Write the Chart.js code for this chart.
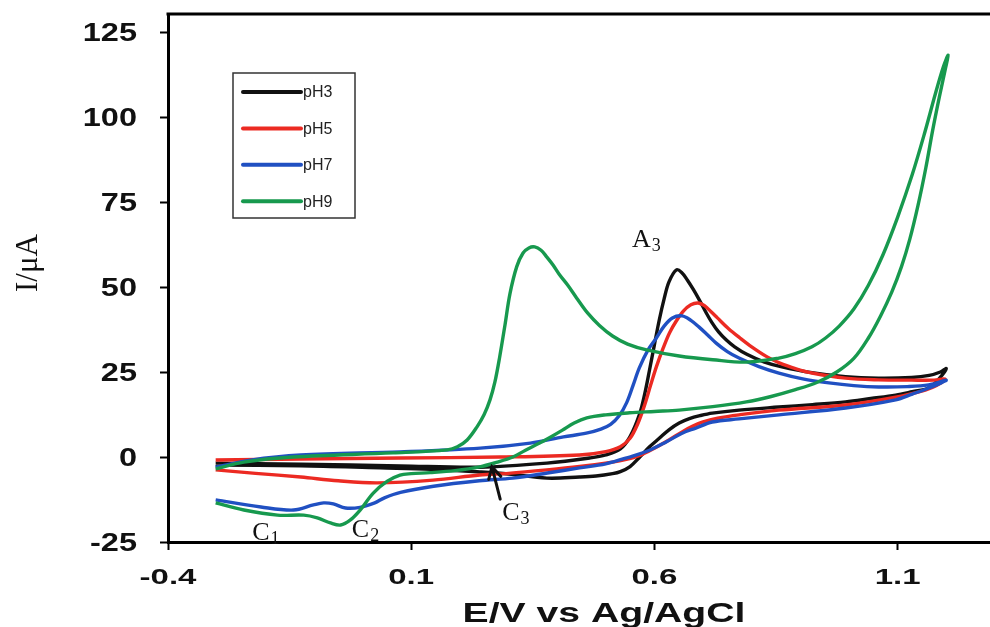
<!DOCTYPE html>
<html>
<head>
<meta charset="utf-8">
<title>CV at different pH</title>
<script src="https://cdn.jsdelivr.net/npm/chart.js@4/dist/chart.umd.min.js"></script>
<style>
  html, body { margin: 0; padding: 0; background: #fff; }
  #cv { display: block; }
</style>
</head>
<body>
<canvas id="cv" width="990" height="627"></canvas>
<script>
// potential (V vs Ag/AgCl) and current (µA), in scan order: forward then reverse
const ph3E = [-0.302, -0.127, 0.077, 0.241, 0.379, 0.467, 0.500, 0.530, 0.550, 0.569, 0.580, 0.590, 0.600, 0.610, 0.620, 0.630, 0.645, 0.656, 0.668, 0.680, 0.692, 0.705, 0.718, 0.732, 0.748, 0.765, 0.790, 0.825, 0.860, 0.924, 0.993, 1.061, 1.129, 1.165, 1.188, 1.200,
  1.185, 1.164, 1.130, 1.096, 1.045, 0.993, 0.925, 0.856, 0.774, 0.719, 0.695, 0.672, 0.651, 0.630, 0.610, 0.590, 0.570, 0.550, 0.530, 0.514, 0.480, 0.446, 0.379, 0.300, 0.241, 0.140, 0.036, -0.127, -0.302]
const ph3I = [-1.8, -2.1, -2.6, -3.0, -1.8, -0.3, 0.6, 2.4, 6.0, 12.4, 18.5, 25.6, 33.0, 40.3, 46.5, 51.5, 55.0, 54.3, 52.0, 49.3, 46.3, 42.8, 39.6, 36.8, 34.4, 32.4, 30.2, 28.0, 26.6, 24.8, 23.6, 23.2, 23.4, 24.0, 25.0, 26.0,
  23.0, 20.3, 19.2, 18.2, 17.2, 16.2, 15.4, 14.7, 13.8, 12.9, 12.2, 11.3, 10.0, 8.0, 5.5, 3.0, 0.0, -2.8, -4.3, -4.9, -5.6, -5.9, -6.2, -5.0, -4.4, -3.6, -3.2, -2.6, -2.4]

const ph5E = [-0.302, -0.127, 0.077, 0.282, 0.446, 0.500, 0.530, 0.550, 0.565, 0.580, 0.592, 0.604, 0.618, 0.631, 0.645, 0.660, 0.675, 0.690, 0.703, 0.716, 0.729, 0.752, 0.776, 0.800, 0.830, 0.858, 0.890, 0.924, 0.993, 1.060, 1.129, 1.175, 1.198,
  1.180, 1.157, 1.096, 0.993, 0.856, 0.774, 0.730, 0.700, 0.678, 0.657, 0.630, 0.600, 0.570, 0.540, 0.514, 0.446, 0.379, 0.300, 0.241, 0.145, 0.030, -0.050, -0.127, -0.220, -0.302]
const ph5I = [-0.9, -0.6, -0.3, 0.0, 0.6, 1.6, 3.0, 5.5, 9.5, 15.3, 21.0, 26.5, 32.0, 36.5, 40.0, 43.0, 44.8, 45.3, 44.5, 42.8, 41.0, 37.8, 35.0, 32.4, 29.6, 27.6, 26.0, 24.7, 23.2, 22.7, 22.6, 22.6, 22.9,
  21.0, 19.7, 17.6, 15.3, 13.8, 12.4, 11.4, 10.3, 9.0, 7.4, 5.0, 2.6, 0.5, -0.8, -1.5, -2.8, -3.8, -4.8, -5.3, -6.8, -7.6, -7.0, -5.9, -4.8, -3.8]

const ph7E = [-0.302, -0.230, -0.127, 0.077, 0.242, 0.345, 0.413, 0.460, 0.490, 0.510, 0.528, 0.543, 0.556, 0.569, 0.587, 0.604, 0.620, 0.637, 0.657, 0.675, 0.692, 0.710, 0.727, 0.750, 0.774, 0.815, 0.856, 0.905, 0.959, 1.010, 1.061, 1.120, 1.164, 1.200,
  1.170, 1.130, 1.096, 0.993, 0.856, 0.774, 0.719, 0.685, 0.657, 0.625, 0.590, 0.549, 0.500, 0.446, 0.380, 0.309, 0.240, 0.146, 0.078, 0.045, 0.025, -0.005, -0.035, -0.060, -0.080, -0.101, -0.142, -0.209, -0.302]
const ph7I = [-3.0, -0.9, 0.6, 1.5, 2.6, 4.1, 5.9, 7.0, 8.2, 9.6, 12.2, 16.0, 21.0, 26.2, 31.5, 35.0, 38.5, 40.9, 41.5, 40.2, 38.2, 35.8, 33.5, 31.0, 29.1, 26.6, 24.7, 23.0, 21.8, 21.0, 20.6, 20.7, 21.2, 22.6,
  20.6, 18.5, 16.8, 14.4, 12.4, 11.2, 10.3, 8.5, 7.0, 4.5, 2.0, 0.0, -2.0, -3.2, -4.7, -6.2, -7.0, -8.6, -10.4, -12.0, -13.5, -14.8, -15.0, -13.8, -13.5, -14.1, -15.6, -14.7, -12.6]

const ph9E = [-0.302, -0.244, -0.142, 0.063, 0.174, 0.195, 0.215, 0.235, 0.250, 0.262, 0.272, 0.282, 0.293, 0.303, 0.317, 0.330, 0.342, 0.354, 0.367, 0.379, 0.392, 0.405, 0.422, 0.440, 0.463, 0.487, 0.514, 0.545, 0.584, 0.651, 0.720, 0.789, 0.856, 0.890, 0.924, 0.952, 0.980, 1.010, 1.040, 1.070, 1.100, 1.130, 1.155, 1.178, 1.194, 1.204,
  1.198, 1.186, 1.172, 1.158, 1.142, 1.125, 1.108, 1.088, 1.065, 1.040, 1.010, 0.975, 0.935, 0.890, 0.840, 0.789, 0.720, 0.651, 0.600, 0.549, 0.500, 0.461, 0.435, 0.411, 0.387, 0.364, 0.335, 0.309, 0.275, 0.241, 0.190, 0.139, 0.100, 0.077, 0.051, 0.022, -0.005, -0.025, -0.045, -0.066, -0.093, -0.121, -0.175, -0.244, -0.302]
const ph9I = [-3.5, -1.5, 0.0, 1.2, 2.1, 3.0, 5.0, 8.8, 12.5, 16.8, 22.0, 29.5, 39.0, 48.0, 56.0, 60.0, 61.5, 61.8, 60.8, 58.8, 56.4, 53.6, 50.5, 46.8, 42.3, 38.7, 35.6, 33.2, 31.5, 29.7, 28.6, 27.9, 29.1, 30.4, 32.4, 35.0, 38.5, 43.5, 50.5, 59.5, 70.5, 83.0, 95.0, 107.0, 114.7, 118.2,
  114.0, 106.0, 96.0, 85.0, 74.0, 64.0, 56.0, 48.5, 41.5, 35.0, 29.0, 25.0, 22.0, 19.8, 17.8, 16.2, 14.8, 13.8, 13.4, 13.0, 12.4, 11.5, 10.0, 7.9, 5.9, 4.1, 2.0, 0.0, -1.6, -2.9, -4.0, -4.6, -4.9, -5.3, -7.1, -10.6, -15.6, -18.5, -20.0, -19.4, -17.9, -17.1, -17.1, -15.6, -13.5]

const xTicks = [-0.4, 0.1, 0.6, 1.1]
const yTicks = [-25, 0, 25, 50, 75, 100, 125]

const series = [
  { label: 'pH3', E: ph3E, I: ph3I, color: '#111111', order: 3 },
  { label: 'pH5', E: ph5E, I: ph5I, color: '#ec2a22', order: 2 },
  { label: 'pH7', E: ph7E, I: ph7I, color: '#2050c2', order: 1 },
  { label: 'pH9', E: ph9E, I: ph9I, color: '#17994e', order: 0 }
]

// peak / wave labels: [main, subscript, E, I]
const peakLabels = [
  ['A', '3', 0.554, 61.8],
  ['C', '1', -0.227, -24.4],
  ['C', '2', -0.022, -23.5],
  ['C', '3', 0.287, -18.5]
]

const SANS = "'Liberation Sans', Arial, sans-serif"
const SERIF = "'Liberation Serif', 'Times New Roman', serif"

const toPoints = (E, I) => E.map((x, i) => ({ x, y: I[i] }))

const stretchText = (ctx, text, x, y, sx, align) => {
  ctx.save()
  ctx.translate(x, y)
  ctx.scale(sx, 1)
  ctx.textAlign = align
  ctx.textBaseline = 'alphabetic'
  ctx.fillText(text, 0, 0)
  ctx.restore()
}

const framePlugin = {
  id: 'frame',
  afterDraw(chart) {
    const { ctx, chartArea } = chart
    ctx.save()
    ctx.strokeStyle = '#000'
    ctx.lineWidth = 3
    ctx.beginPath()
    ctx.moveTo(chartArea.left - 1.5, chartArea.top)
    ctx.lineTo(chartArea.right, chartArea.top)
    ctx.stroke()
    ctx.restore()
  }
}

const textPlugin = {
  id: 'axisText',
  afterDraw(chart) {
    const { ctx, scales } = chart
    const x = scales.x
    const y = scales.y
    ctx.save()
    ctx.fillStyle = '#111'

    ctx.font = `bold 25px ${SANS}`
    yTicks.forEach(v => stretchText(ctx, String(v), 137, y.getPixelForValue(v) + 9, 1.3, 'right'))

    ctx.font = `bold 22px ${SANS}`
    xTicks.forEach(v => stretchText(ctx, v.toFixed(1), x.getPixelForValue(v), 584, 1.5, 'center'))

    ctx.font = `bold 27px ${SANS}`
    stretchText(ctx, 'E/V vs Ag/AgCl', 604, 622, 1.45, 'center')

    // y title
    ctx.font = `31px ${SERIF}`
    ctx.save()
    ctx.translate(37, 263)
    ctx.rotate(-Math.PI / 2)
    ctx.textAlign = 'center'
    ctx.fillText('I/μA', 0, 0)
    ctx.restore()

    // peak labels
    peakLabels.forEach(([main, sub, e, i]) => {
      const px = x.getPixelForValue(e)
      const py = y.getPixelForValue(i)
      ctx.font = `26px ${SERIF}`
      ctx.textAlign = 'left'
      ctx.fillText(main, px, py)
      const w = ctx.measureText(main).width
      ctx.font = `18px ${SERIF}`
      ctx.fillText(sub, px + w + 1, py + 4)
    })

    // arrow pointing at C3
    const tx = x.getPixelForValue(0.283), ty = y.getPixelForValue(-12.4)
    const hx = x.getPixelForValue(0.266), hy = y.getPixelForValue(-2.9)
    const ang = Math.atan2(hy - ty, hx - tx)
    ctx.strokeStyle = '#111'
    ctx.lineWidth = 3
    ctx.lineCap = 'round'
    ctx.beginPath()
    ctx.moveTo(tx, ty)
    ctx.lineTo(hx, hy)
    ctx.moveTo(hx + 13 * Math.cos(ang + Math.PI - 0.5), hy + 13 * Math.sin(ang + Math.PI - 0.5))
    ctx.lineTo(hx, hy)
    ctx.lineTo(hx + 13 * Math.cos(ang + Math.PI + 0.5), hy + 13 * Math.sin(ang + Math.PI + 0.5))
    ctx.stroke()
    ctx.restore()
  }
}

const legendPlugin = {
  id: 'boxLegend',
  afterDraw(chart) {
    const { ctx, chartArea } = chart
    const left = chartArea.left + 65
    const top = chartArea.top + 59
    ctx.save()
    ctx.strokeStyle = '#333'
    ctx.lineWidth = 1.5
    ctx.strokeRect(left, top, 122, 145)
    ctx.font = `16px ${SANS}`
    ctx.textAlign = 'left'
    ctx.textBaseline = 'middle'
    series.forEach((s, k) => {
      const ly = top + 19 + k * 36.4
      ctx.strokeStyle = s.color
      ctx.lineWidth = 4
      ctx.lineCap = 'round'
      ctx.beginPath()
      ctx.moveTo(left + 10, ly)
      ctx.lineTo(left + 68, ly)
      ctx.stroke()
      ctx.fillStyle = '#222'
      ctx.fillText(s.label, left + 70, ly + 1)
    })
    ctx.restore()
  }
}

const ctx = document.getElementById('cv').getContext('2d')

new Chart(ctx, {
  type: 'scatter',
  data: {
    datasets: series.map(s => ({
      label: s.label,
      data: toPoints(s.E, s.I),
      showLine: true,
      borderColor: s.color,
      backgroundColor: s.color,
      borderWidth: 3.4,
      tension: 0.35,
      pointRadius: 0,
      order: s.order
    }))
  },
  options: {
    responsive: false,
    animation: false,
    layout: { padding: { top: 14, left: 0, right: 0, bottom: 0 } },
    plugins: {
      legend: { display: false },
      tooltip: { enabled: false }
    },
    scales: {
      x: {
        type: 'linear',
        min: -0.4,
        max: 1.29,
        afterBuildTicks: s => { s.ticks = xTicks.map(value => ({ value })) },
        afterFit: s => { s.height = 85 },
        ticks: { display: false },
        grid: { drawOnChartArea: false, drawTicks: true, tickLength: 8, tickWidth: 2, color: '#000' },
        border: { display: true, width: 3, color: '#000' }
      },
      y: {
        type: 'linear',
        min: -25,
        max: 130.3,
        afterBuildTicks: s => { s.ticks = yTicks.map(value => ({ value })) },
        afterFit: s => { s.width = 168 },
        ticks: { display: false },
        grid: { drawOnChartArea: false, drawTicks: true, tickLength: 8, tickWidth: 2, color: '#000' },
        border: { display: true, width: 3, color: '#000' }
      }
    }
  },
  plugins: [framePlugin, textPlugin, legendPlugin]
})
</script>
</body>
</html>
